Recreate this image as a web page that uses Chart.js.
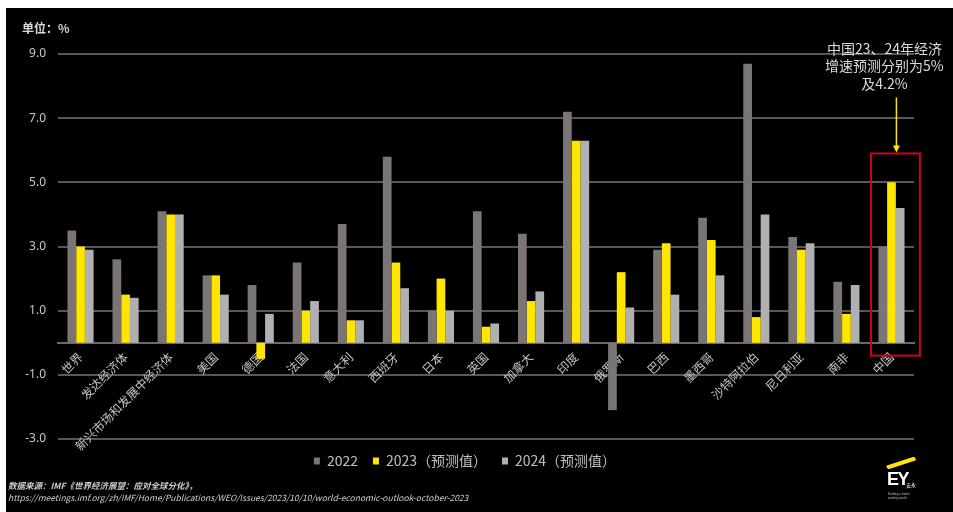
<!DOCTYPE html>
<html>
<head>
<meta charset="utf-8">
<script src="https://cdn.jsdelivr.net/npm/chart.js@4"></script>
<style>
  body { margin: 0; background: #fff; }
  #wrap { position: absolute; left: 6px; top: 8px; width: 947px; height: 504px; background: #000; overflow: hidden; }
  #chart { position: absolute; left: 0; top: 0; }
  .unit { position: absolute; left: 16px; top: 11px; color: #d8d8d8; font: bold 12px "Noto Sans CJK SC", sans-serif; }
  .source { position: absolute; left: 2px; top: 471px; color: #d0d0d0; font: italic 8.5px "Noto Sans CJK SC", "Liberation Sans", sans-serif; line-height: 12px; }
  .source b { font-weight: bold; }
  .logo { position: absolute; left: 874px; top: 442px; width: 44px; height: 58px; }
  .slash { position: absolute; left: 6px; top: 11px; width: 30px; height: 3.5px; background: #ffe600; transform: rotate(-18deg); border-radius: 0 2px 0 2px; }
  .ey { position: absolute; left: 7px; top: 19px; color: #fff; font: bold 18px "Liberation Sans", sans-serif; letter-spacing: -1.5px; }
  .cn { position: absolute; left: 26px; top: 31px; color: #fff; font: 5px "Noto Sans CJK SC", sans-serif; }
  .tag { position: absolute; left: 8px; top: 43px; color: #bbb; font: 3px "Liberation Sans", sans-serif; line-height: 3.5px; width: 24px; }
</style>
</head>
<body>
<div id="wrap">
  <canvas id="chart" width="947" height="504"></canvas>
  <div class="unit">单位：%</div>
  <div class="source"><b>数据来源：IMF《世界经济展望：应对全球分化》，</b><br>https://meetings.imf.org/zh/IMF/Home/Publications/WEO/Issues/2023/10/10/world-economic-outlook-october-2023</div>
  <div class="logo">
    <div class="slash"></div>
    <div class="ey">EY</div>
    <div class="cn">安永</div>
    <div class="tag">Building a better working world</div>
  </div>
</div>
<script>
const categories = ['世界','发达经济体','新兴市场和发展中经济体','美国','德国','法国','意大利','西班牙','日本','英国','加拿大','印度','俄罗斯','巴西','墨西哥','沙特阿拉伯','尼日利亚','南非','中国']
const growth2022 = [3.5, 2.6, 4.1, 2.1, 1.8, 2.5, 3.7, 5.8, 1.0, 4.1, 3.4, 7.2, -2.1, 2.9, 3.9, 8.7, 3.3, 1.9, 3.0]
const growth2023 = [3.0, 1.5, 4.0, 2.1, -0.5, 1.0, 0.7, 2.5, 2.0, 0.5, 1.3, 6.3, 2.2, 3.1, 3.2, 0.8, 2.9, 0.9, 5.0]
const growth2024 = [2.9, 1.4, 4.0, 1.5, 0.9, 1.3, 0.7, 1.7, 1.0, 0.6, 1.6, 6.3, 1.1, 1.5, 2.1, 4.0, 3.1, 1.8, 4.2]
const seriesNames = ['2022', '2023（预测值）', '2024（预测值）']
const seriesColors = ['#7b7575', '#ffe600', '#b0b0b2']
const yMin = -3
const yMax = 9
const yStep = 2
const noteLines = ['中国23、24年经济', '增速预测分别为5%', '及4.2%']
const noteCategory = '中国'
const noteBoxTop = 5.9
const noteBoxBottom = -0.4

// red box + arrow + text over China
const chinaNote = {
    id: 'chinaNote',
    afterDatasetsDraw(chart){
        const {ctx, scales: {x, y}} = chart
        const i = categories.indexOf(noteCategory)
        const cx = x.getPixelForValue(i)
        const w = x.width / categories.length
        const top = y.getPixelForValue(noteBoxTop)
        const bottom = y.getPixelForValue(noteBoxBottom)
        const left = cx - w*0.455
        const right = cx + w*0.63
        ctx.save()
        ctx.strokeStyle = '#d0021b'
        ctx.lineWidth = 2
        ctx.strokeRect(left, top, right-left, bottom-top)

        const ax = (left+right)/2 + 1
        ctx.strokeStyle = '#ffe600'
        ctx.fillStyle = '#ffe600'
        ctx.lineWidth = 1.5
        ctx.beginPath()
        ctx.moveTo(ax, top-56)
        ctx.lineTo(ax, top-6)
        ctx.stroke()
        ctx.beginPath()
        ctx.moveTo(ax-3.5, top-8)
        ctx.lineTo(ax+3.5, top-8)
        ctx.lineTo(ax, top-1)
        ctx.closePath()
        ctx.fill()

        ctx.fillStyle = '#dcdcdc'
        ctx.font = '14px "Noto Sans CJK SC", sans-serif'
        ctx.textAlign = 'center'
        ctx.textBaseline = 'middle'
        noteLines.forEach((line, k)=>{
            ctx.fillText(line, ax - 12, top - 105 + k*17.5)
        })
        ctx.restore()
    }
}

function getChartData(){
    const series = [growth2022, growth2023, growth2024]
    return {
        labels: categories,
        datasets: series.map((values, k)=>({
            label: seriesNames[k],
            data: values,
            backgroundColor: seriesColors[k],
            borderWidth: 0,
            barPercentage: 1,
            categoryPercentage: 0.58
        }))
    }
}

function getChartOptions(){
    return {
        responsive: false,
        animation: false,
        layout: { padding: { left: 10, right: 39, top: 46, bottom: 34 } },
        plugins: {
            legend: {
                position: 'bottom',
                labels: {
                    color: '#c0c0c0',
                    font: { size: 14, family: '"Noto Sans CJK SC", sans-serif' },
                    boxWidth: 6,
                    boxHeight: 7,
                    padding: 15
                }
            },
            tooltip: { enabled: false }
        },
        scales: {
            x: {
                position: { y: 0 },
                z: 1,
                grid: { display: false, drawTicks: false },
                border: { display: true, color: '#6a6a6a', width: 2 },
                ticks: {
                    color: '#c4c4c4',
                    font: { size: 12, family: '"Noto Sans CJK SC", sans-serif' },
                    minRotation: 45,
                    maxRotation: 45,
                    autoSkip: false,
                    padding: 7
                }
            },
            y: {
                min: yMin,
                max: yMax,
                afterFit(scale){ scale.width = 42 },
                grid: { color: '#585858', lineWidth: 2, drawTicks: false },
                border: { display: false },
                ticks: {
                    stepSize: yStep,
                    color: '#c8c8c8',
                    padding: 12,
                    font: { size: 12, family: '"Noto Sans", sans-serif' },
                    callback: (v)=> v.toFixed(1)
                }
            }
        }
    }
}

new Chart(document.querySelector('#chart'), {
    type: 'bar',
    data: getChartData(),
    options: getChartOptions(),
    plugins: [chinaNote]
})
</script>
</body>
</html>
